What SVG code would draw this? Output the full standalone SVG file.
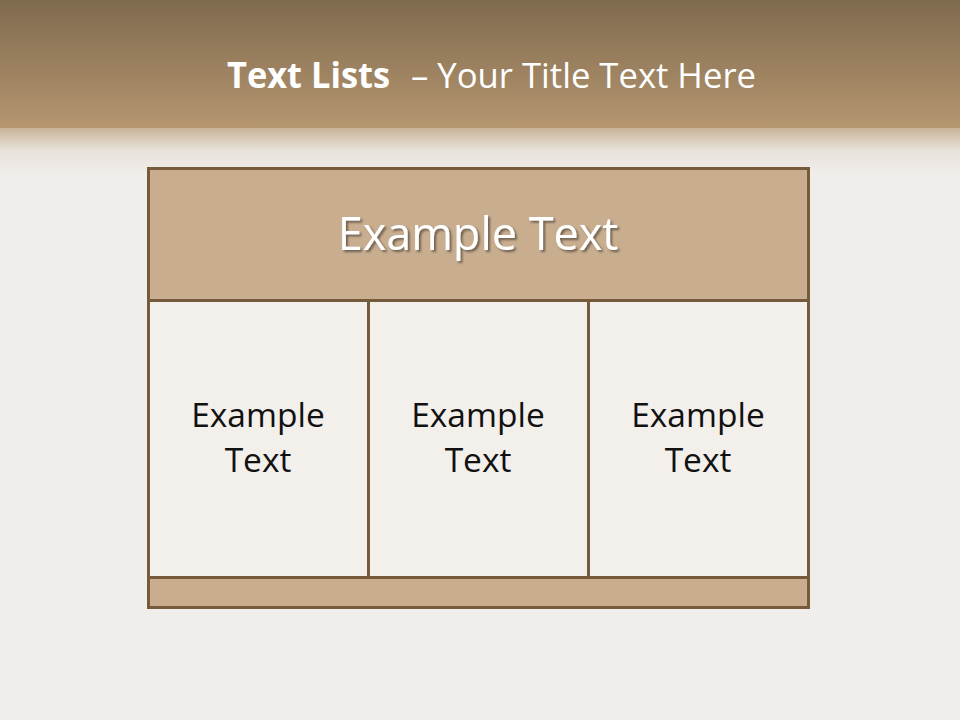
<svg xmlns="http://www.w3.org/2000/svg" width="960" height="720" viewBox="0 0 960 720">
<defs>
<linearGradient id="bgTop" x1="0" y1="0" x2="0" y2="1">
<stop offset="0" stop-color="#7f6a4f"/>
<stop offset="1" stop-color="#b5966f"/>
</linearGradient>
<linearGradient id="bgFade" x1="0" y1="0" x2="0" y2="1">
<stop offset="0" stop-color="#c9b49a"/>
<stop offset="0.5" stop-color="#e8e2da"/>
<stop offset="1" stop-color="#f0edea"/>
</linearGradient>
<filter id="shadow" x="-10%" y="-20%" width="120%" height="150%">
<feDropShadow dx="2" dy="2" stdDeviation="1.2" flood-color="#000" flood-opacity="0.45"/>
</filter>
<style>
.cell{stroke:#765a3c;stroke-width:3}
.tan{fill:#c8ad8f}
.light{fill:#f3efea}
.ct{font-family:"Open Sans","Liberation Sans",sans-serif;font-size:33.5px;fill:#111;text-anchor:middle}
.ht{font-family:"Open Sans","Liberation Sans",sans-serif;font-size:45px;fill:#fff;text-anchor:middle}
.title{font-family:"Open Sans","Liberation Sans",sans-serif;font-size:35px;fill:#fff}
</style>
</defs>
<rect width="960" height="720" fill="#f0eeeb"/>
<rect width="960" height="128" fill="url(#bgTop)"/>
<rect y="128" width="960" height="45" fill="url(#bgFade)"/>
<text class="title" x="227" y="88" font-weight="bold" textLength="163" lengthAdjust="spacingAndGlyphs">Text Lists</text>
<text class="title" x="411" y="88" textLength="345" lengthAdjust="spacingAndGlyphs">– Your Title Text Here</text>
<g id="header">
<rect class="cell tan" x="148.5" y="168.5" width="660" height="132"/>
<text class="ht" x="478" y="250" filter="url(#shadow)">Example Text</text>
</g>
<g id="cell1">
<rect class="cell light" x="148.5" y="300.5" width="220" height="277"/>
<text class="ct" x="258" y="427">Example</text>
<text class="ct" x="258" y="472">Text</text>
</g>
<g id="cell2">
<rect class="cell light" x="368.5" y="300.5" width="220" height="277"/>
<text class="ct" x="478" y="427">Example</text>
<text class="ct" x="478" y="472">Text</text>
</g>
<g id="cell3">
<rect class="cell light" x="588.5" y="300.5" width="220" height="277"/>
<text class="ct" x="698" y="427">Example</text>
<text class="ct" x="698" y="472">Text</text>
</g>
<g id="footer">
<rect class="cell tan" x="148.5" y="577.5" width="660" height="30"/>
</g>
<g id="connectors"/>
</svg>
